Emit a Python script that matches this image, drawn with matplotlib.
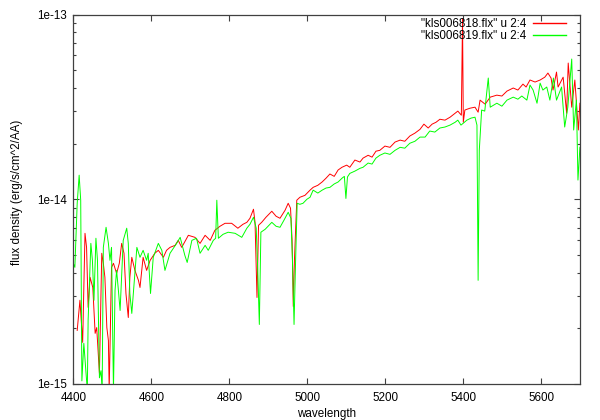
import matplotlib
matplotlib.use("Agg")
import matplotlib.pyplot as plt
from matplotlib.ticker import LogLocator, NullFormatter, FixedLocator

plt.rcParams['font.family'] = ['Liberation Sans', 'DejaVu Sans']

UNIT = 1e-15

red_label = '"kls006818.flx" u 2:4'
green_label = '"kls006819.flx" u 2:4'

red_wl = [4410, 4417, 4424, 4430, 4434, 4438, 4443, 4450, 4456, 4460, 4467, 4473, 4477, 4481,
          4486, 4490, 4492, 4498, 4503, 4511, 4518, 4524, 4530, 4535, 4541, 4545, 4550, 4558,
          4567, 4571, 4579, 4588, 4597, 4609, 4618, 4631, 4639, 4648, 4661, 4669, 4678, 4695,
          4712, 4725, 4738, 4751, 4763, 4776, 4789, 4806, 4822, 4835, 4845, 4853, 4862, 4866,
          4871, 4875, 4883, 4894, 4909, 4920, 4930, 4943, 4951, 4957, 4961, 4964, 4967, 4973,
          4981, 4994, 5007, 5015, 5027, 5038, 5048, 5058, 5069, 5079, 5089, 5101, 5109, 5122,
          5135, 5143, 5156, 5166, 5176, 5186, 5199, 5212, 5225, 5238, 5250, 5263, 5276, 5289,
          5299, 5310, 5320, 5330, 5340, 5353, 5366, 5379, 5386, 5395, 5398, 5400, 5404, 5417,
          5430, 5438, 5443, 5456, 5469, 5486, 5499, 5512, 5528, 5540, 5553, 5561, 5571, 5584,
          5597, 5609, 5617, 5625, 5630, 5639, 5643, 5656, 5665, 5669, 5678, 5686, 5695, 5699]
red_flux = [1.95, 2.84, 1.68, 6.54, 5.49, 2.60, 3.78, 3.33, 1.88, 2.02, 1.14, 5.10, 4.50, 3.78,
            2.02, 1.72, 0.92, 4.28, 4.50, 3.97, 4.50, 5.77, 5.10, 3.09, 2.29, 3.78, 4.85, 4.12,
            3.64, 3.33, 4.85, 4.12, 4.67, 5.10, 5.29, 4.85, 5.29, 5.49, 5.63, 5.99, 5.49, 6.38,
            6.22, 5.77, 6.38, 5.99, 6.79, 7.14, 7.41, 7.41, 6.97, 7.32, 7.50, 7.89, 8.83, 7.50,
            2.94, 7.23, 7.50, 7.99, 8.61, 8.09, 7.89, 8.72, 9.51, 8.94, 5.99, 2.63, 4.67, 9.88,
            10.25, 10.5, 11.2, 11.6, 11.9, 12.4, 13.0, 13.7, 13.3, 14.4, 14.9, 15.3, 14.9, 16.3,
            15.9, 16.7, 17.3, 16.9, 18.2, 18.4, 19.4, 19.1, 20.4, 20.9, 20.6, 22.0, 22.8, 23.9,
            25.5, 24.3, 25.5, 26.1, 27.1, 26.8, 27.8, 29.2, 30.0, 28.5, 95.0, 26.1, 30.4, 31.1,
            31.5, 29.6, 34.4, 32.7, 35.7, 36.6, 36.2, 38.5, 40.0, 39.0, 42.0, 40.5, 44.2, 43.1,
            44.2, 45.8, 48.2, 45.3, 39.0, 48.8, 40.5, 45.8, 29.2, 54.6, 31.5, 44.2, 23.7, 33.1]

green_wl = [4400, 4404, 4410, 4415, 4419, 4422, 4427, 4436, 4438, 4445, 4449, 4453, 4458, 4462,
            4467, 4471, 4474, 4477, 4484, 4490, 4494, 4498, 4503, 4507, 4511, 4515, 4520, 4528,
            4537, 4541, 4545, 4550, 4554, 4563, 4571, 4579, 4588, 4592, 4598, 4605, 4618, 4627,
            4635, 4648, 4665, 4674, 4686, 4692, 4704, 4716, 4725, 4738, 4746, 4759, 4765, 4768,
            4772, 4784, 4797, 4815, 4832, 4845, 4853, 4862, 4869, 4873, 4877, 4881, 4892, 4909,
            4920, 4930, 4940, 4951, 4958, 4962, 4966, 4970, 4974, 4981, 4989, 4999, 5007, 5015,
            5027, 5038, 5048, 5058, 5069, 5079, 5089, 5095, 5099, 5103, 5109, 5122, 5135, 5143,
            5156, 5166, 5176, 5186, 5199, 5212, 5225, 5238, 5250, 5263, 5276, 5289, 5302, 5314,
            5327, 5340, 5353, 5366, 5379, 5386, 5394, 5400, 5409, 5420, 5430, 5435, 5438, 5441,
            5447, 5455, 5464, 5469, 5486, 5499, 5512, 5528, 5540, 5550, 5563, 5571, 5579, 5589,
            5597, 5604, 5614, 5622, 5631, 5639, 5652, 5660, 5668, 5678, 5683, 5690, 5694, 5699]
green_flux = [4.50, 4.28, 9.51, 13.5, 9.88, 1.04, 1.66, 0.92, 2.21, 5.77, 4.67, 2.84, 6.15, 4.67,
              1.08, 1.18, 0.92, 5.49, 7.05, 5.77, 4.67, 5.49, 0.92, 3.21, 4.12, 3.33, 2.50, 5.99,
              6.97, 5.77, 3.09, 2.41, 3.09, 5.49, 4.85, 5.29, 4.67, 5.10, 3.09, 4.85, 5.77, 5.29,
              4.12, 5.10, 5.77, 6.22, 4.97, 4.55, 5.99, 6.15, 5.10, 5.63, 5.29, 5.99, 6.15, 9.88,
              6.15, 6.46, 6.63, 6.54, 6.22, 6.97, 7.32, 7.99, 6.97, 4.12, 2.10, 6.63, 6.88, 7.50,
              7.14, 7.05, 7.69, 8.50, 7.89, 4.67, 2.10, 4.67, 9.51, 9.39, 9.51, 10.0, 10.25, 11.2,
              10.8, 11.2, 11.5, 11.6, 12.1, 12.4, 13.0, 13.3, 10.1, 13.2, 13.8, 14.2, 14.7, 14.9,
              15.7, 15.5, 16.7, 17.3, 17.8, 17.5, 18.4, 19.1, 18.9, 20.1, 20.6, 21.7, 21.7, 23.4,
              23.1, 24.3, 24.6, 25.2, 26.1, 26.8, 25.2, 25.8, 26.8, 27.5, 27.8, 25.2, 3.64, 18.4,
              30.4, 30.0, 45.3, 31.5, 33.1, 31.9, 34.4, 35.7, 34.8, 36.2, 34.4, 41.5, 39.0, 33.1,
              42.5, 39.0, 40.5, 34.4, 45.3, 34.4, 40.5, 24.6, 31.5, 57.4, 23.7, 34.4, 12.7, 19.1]

x_ticks = [4400, 4600, 4800, 5000, 5200, 5400, 5600]
y_ticks = [1e-15, 1e-14, 1e-13]
y_ticklabels = ['1e-15', '1e-14', '1e-13']

fig = plt.figure(figsize=(6.0, 4.2), dpi=100)
ax = fig.add_axes([73.3 / 600, 1 - 384 / 420, (580.3 - 73.3) / 600, (384 - 14.5) / 420])

ax.plot(red_wl, [v * UNIT for v in red_flux], color='#ff0000', lw=0.7, label=red_label)
ax.plot(green_wl, [v * UNIT for v in green_flux], color='#00ff00', lw=0.7, label=green_label)

ax.set_yscale('log')
ax.set_xlim(4400, 5700)
ax.set_ylim(1e-15, 1e-13)
ax.xaxis.set_major_locator(FixedLocator(x_ticks))
ax.set_xticklabels([str(t) for t in x_ticks])
ax.yaxis.set_major_locator(FixedLocator(y_ticks))
ax.set_yticklabels(y_ticklabels)
ax.yaxis.set_minor_locator(LogLocator(base=10, subs=range(2, 10)))
ax.yaxis.set_minor_formatter(NullFormatter())

fs = 8.4
ax.tick_params(axis='both', which='both', direction='in', top=True, right=True,
               labelsize=fs, colors='#404040', labelcolor='black')
ax.tick_params(axis='both', which='major', length=4.5, width=0.8)
ax.tick_params(axis='y', which='minor', length=2.5, width=0.8)
ax.tick_params(axis='x', which='major', pad=6)
ax.tick_params(axis='y', which='major', pad=4.5)
for s in ax.spines.values():
    s.set_color('#404040')
    s.set_linewidth(0.9)

ax.set_xlabel('wavelength', fontsize=fs)
ax.xaxis.label.set_va('center')
ax.xaxis.set_label_coords(0.5, (384 - 414) / 369.5)
ax.set_ylabel('flux density (erg/s/cm^2/AA)', fontsize=fs)
ax.yaxis.label.set_va('center')
ax.yaxis.set_label_coords((16.7 - 73.3) / 507, (384 - 192) / 369.5)

leg = ax.legend(loc='upper right', bbox_to_anchor=(566 / 600, 1 - 18 / 420),
                bbox_transform=fig.transFigure, frameon=False, markerfirst=False,
                fontsize=fs, handlelength=2.8, handletextpad=0.6, labelspacing=0.0,
                borderpad=0, borderaxespad=0)
for t in leg.get_texts():
    t.set_ha('right')
for h in leg.get_lines():
    h.set_linewidth(1.0)

fig.savefig('out.png', dpi=100)
